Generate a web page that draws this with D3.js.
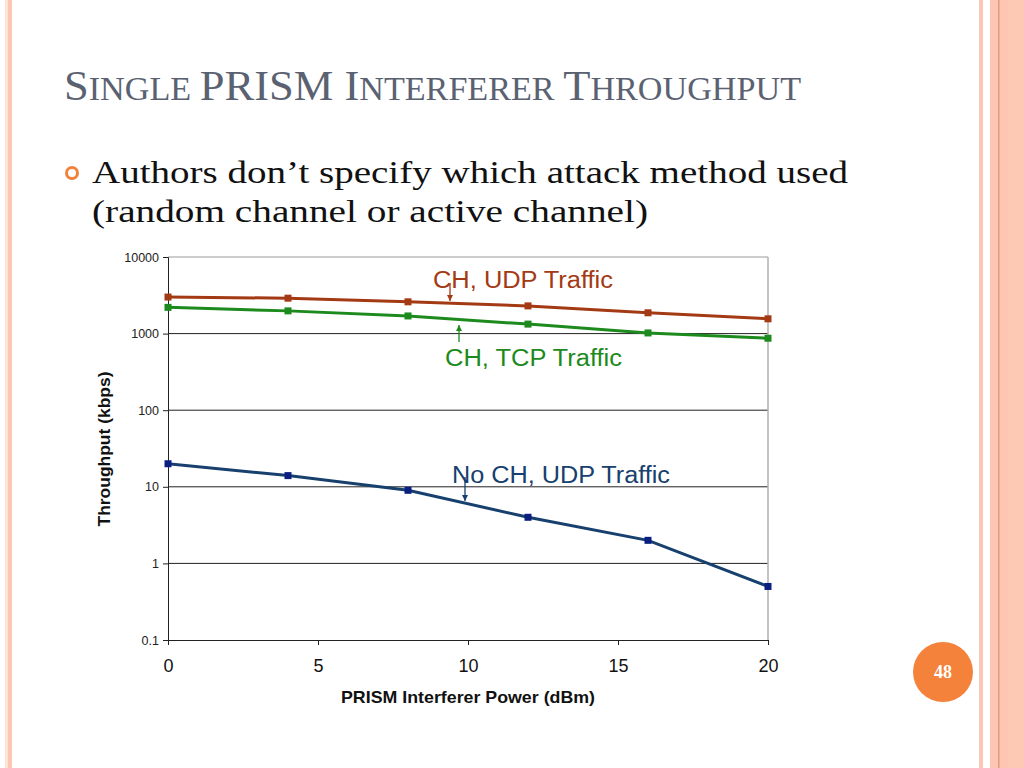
<!DOCTYPE html>
<html><head><meta charset="utf-8">
<script src="https://cdn.jsdelivr.net/npm/d3@7/dist/d3.min.js"></script>
<style>body{margin:0;background:#fff}svg{display:block}</style>
</head><body>
<svg id="s" width="1024" height="768"></svg>
<script>
const xValues = [0, 4, 8, 12, 16, 20];
const chUdp = [3000, 2900, 2600, 2300, 1870, 1560];
const chTcp = [2200, 1980, 1700, 1330, 1020, 870];
const noChUdp = [20, 14, 9, 4, 2, 0.5];
const xTicks = [0, 5, 10, 15, 20];
const yTicks = [0.1, 1, 10, 100, 1000, 10000];
const seriesNames = ["CH, UDP Traffic", "CH, TCP Traffic", "No CH, UDP Traffic"];
const seriesColors = ["#a33a14", "#1c8a1c", "#17406e"];
const markerColors = ["#a33a14", "#1c8a1c", "#0a1f80"];

const svg = d3.select("#s");
// slide decoration
svg.append("rect").attr("x",5).attr("y",0).attr("width",3).attr("height",768).attr("fill","#fbe3d6");
svg.append("rect").attr("x",8).attr("y",0).attr("width",4).attr("height",768).attr("fill","#fbc6b4");
svg.append("rect").attr("x",979).attr("y",0).attr("width",4).attr("height",768).attr("fill","#fbc6b4");
svg.append("rect").attr("x",990).attr("y",0).attr("width",34).attr("height",768).attr("fill","#fcc6b2");
svg.append("rect").attr("x",1008).attr("y",0).attr("width",16).attr("height",768).attr("fill","#fdc9b5");
svg.append("rect").attr("x",998).attr("y",0).attr("width",1.5).attr("height",768).attr("fill","#e49a7c");

// title
const title = svg.append("text").attr("x",64).attr("y",100)
  .attr("font-family","Liberation Serif, DejaVu Serif, serif").attr("fill","#5a6272")
  .attr("textLength",737).attr("lengthAdjust","spacingAndGlyphs");
[["S",43],["INGLE ",33],["PRISM ",43],["I",43],["NTERFERER ",33],["T",43],["HROUGHPUT",33]].forEach(([t,s])=>{
  title.append("tspan").attr("font-size",s).text(t);
});

// bullet
svg.append("circle").attr("cx",72).attr("cy",173).attr("r",5.5).attr("fill","none").attr("stroke","#f0823c").attr("stroke-width",3);
svg.append("text").attr("x",92).attr("y",183).attr("font-family","Liberation Serif, serif").attr("font-size",32)
  .attr("textLength",756).attr("lengthAdjust","spacingAndGlyphs").attr("fill","#111").text("Authors don\u2019t specify which attack method used");
svg.append("text").attr("x",92).attr("y",222).attr("font-family","Liberation Serif, serif").attr("font-size",32)
  .attr("textLength",556).attr("lengthAdjust","spacingAndGlyphs").attr("fill","#111").text("(random channel or active channel)");

// page number
svg.append("circle").attr("cx",943).attr("cy",672).attr("r",30).attr("fill","#f5823a");
svg.append("text").attr("x",943).attr("y",678).attr("text-anchor","middle").attr("font-family","Liberation Serif, serif")
  .attr("font-size",18).attr("font-weight","bold").attr("fill","#fff").text("48");

// chart
const x = d3.scaleLinear().domain([0,20]).range([168,768]);
const y = d3.scaleLog().domain([0.1,10000]).range([640,257]);

// grid
svg.append("g").selectAll("line").data(yTicks.filter(v=>v>0.1)).join("line")
  .attr("x1",168).attr("x2",768).attr("y1",d=>y(d)).attr("y2",d=>y(d))
  .attr("stroke",d=>d===10000?"#9a9a9a":"#222").attr("stroke-width",1);
svg.append("line").attr("x1",768).attr("x2",768).attr("y1",257).attr("y2",640).attr("stroke","#b0b0b0").attr("stroke-width",1.5);

const yAxis = svg.append("g").attr("transform","translate(168,0)")
  .call(d3.axisLeft(y).tickValues(yTicks).tickFormat(d=>String(d)).tickSize(5).tickPadding(4));
yAxis.selectAll("text").attr("font-family","Liberation Sans, Arial, sans-serif").attr("font-size",12.5).attr("fill","#222");
yAxis.select(".domain").attr("stroke","#222");
yAxis.selectAll(".tick line").attr("stroke","#222");

const xAxis = svg.append("g").attr("transform","translate(0,640)")
  .call(d3.axisBottom(x).tickValues(xTicks).tickSize(5).tickPadding(14));
xAxis.selectAll("text").attr("font-family","Liberation Sans, Arial, sans-serif").attr("font-size",18).attr("fill","#111");
xAxis.select(".domain").attr("stroke","#222");
xAxis.selectAll(".tick line").attr("stroke","#222");

svg.append("text").attr("x",468).attr("y",703).attr("text-anchor","middle")
  .attr("font-family","Liberation Sans, Arial, sans-serif").attr("font-size",17).attr("font-weight","bold").attr("fill","#111")
  .attr("textLength",254).attr("lengthAdjust","spacingAndGlyphs")
  .text("PRISM Interferer Power (dBm)");
svg.append("text").attr("transform","translate(110,449) rotate(-90)").attr("text-anchor","middle")
  .attr("font-family","Liberation Sans, Arial, sans-serif").attr("font-size",17).attr("font-weight","bold").attr("fill","#111")
  .attr("textLength",155).attr("lengthAdjust","spacingAndGlyphs")
  .text("Throughput (kbps)");

const allSeries = [chUdp, chTcp, noChUdp];
const line = d3.line().x((d,i)=>x(xValues[i])).y(d=>y(d));
allSeries.forEach((vals,k)=>{
  svg.append("path").datum(vals).attr("d",line).attr("fill","none")
    .attr("stroke",seriesColors[k]).attr("stroke-width",3);
  svg.append("g").selectAll("rect").data(vals).join("rect")
    .attr("x",(d,i)=>x(xValues[i])-3.5).attr("y",d=>y(d)-3.5).attr("width",7).attr("height",7)
    .attr("fill",markerColors[k]);
});

// annotations
const ann = [
  {text:seriesNames[0], tx:433, ty:288, w:180, ax:450, ay1:283, ay2:301, col:"#a33a14"},
  {text:seriesNames[1], tx:445, ty:366, w:177, ax:459, ay1:342, ay2:325, col:"#1c8a1c"},
  {text:seriesNames[2], tx:452, ty:483, w:218, ax:465, ay1:477, ay2:501, col:"#17406e"}
];
ann.forEach(a=>{
  svg.append("text").attr("x",a.tx).attr("y",a.ty).attr("font-family","Liberation Sans, Arial, sans-serif")
    .attr("font-size",23).attr("fill",a.col).attr("textLength",a.w).attr("lengthAdjust","spacingAndGlyphs").text(a.text);
  svg.append("line").attr("x1",a.ax).attr("x2",a.ax).attr("y1",a.ay1).attr("y2",a.ay2).attr("stroke",a.col).attr("stroke-width",1.3);
  const dir = a.ay2>a.ay1?1:-1;
  svg.append("path").attr("d",`M${a.ax-3},${a.ay2-6*dir} L${a.ax+3},${a.ay2-6*dir} L${a.ax},${a.ay2} Z`).attr("fill",a.col);
});
</script>
</body></html>
